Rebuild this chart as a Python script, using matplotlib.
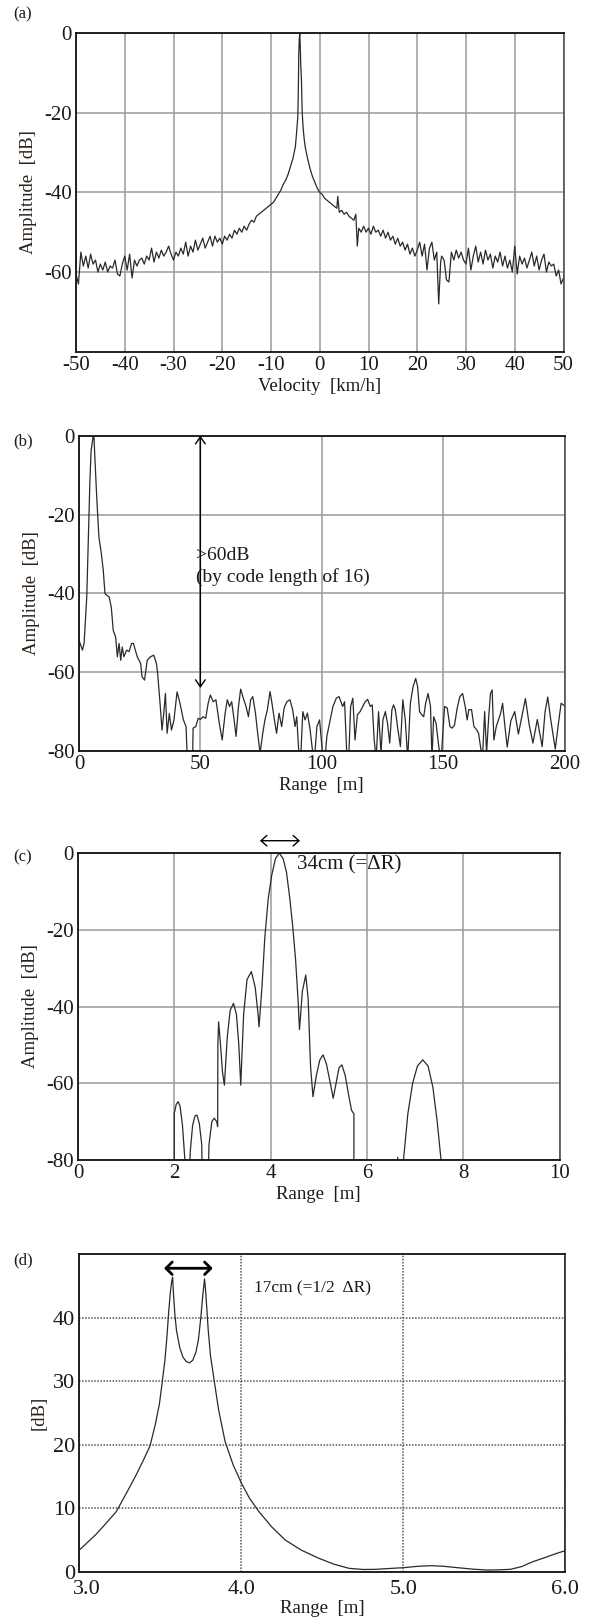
import numpy as np
import matplotlib.pyplot as plt
import matplotlib.transforms as mtransforms

plt.rcParams['font.family'] = ['Liberation Serif', 'DejaVu Serif']
plt.rcParams['axes.unicode_minus'] = False

# (a) Doppler spectrum
vel = [-50.0, -49.5, -49.0, -48.5, -48.0, -47.5, -47.0, -46.5, -46.0, -45.5,
       -45.0, -44.5, -44.0, -43.5, -43.0, -42.5, -42.0, -41.5, -41.0, -40.5,
       -40.0, -39.5, -39.0, -38.5, -38.0, -37.5, -37.0, -36.5, -36.0, -35.5,
       -35.0, -34.5, -34.0, -33.5, -33.0, -32.5, -32.0, -31.5, -31.0, -30.5,
       -30.0, -29.5, -29.0, -28.5, -28.0, -27.5, -27.0, -26.5, -26.0, -25.5,
       -25.0, -24.5, -24.0, -23.5, -23.0, -22.5, -22.0, -21.5, -21.0, -20.5,
       -20.0, -19.5, -19.0, -18.5, -18.0, -17.5, -17.0, -16.5, -16.0, -15.5,
       -15.0, -14.5, -14.0, -13.5, -13.0, -12.5, -12.0, -11.5, -11.0, -10.5,
       -10.0, -9.5, -9.0, -8.5, -8.0, -7.5, -7.0, -6.5, -6.0, -5.5,
       -5.0, -4.75, -4.5, -4.4, -4.3, -4.2, -4.1, -4.0, -3.9, -3.75,
       -3.6, -3.4, -3.2, -3.0, -2.5, -2.0, -1.5, -1.0, -0.5, 0.0,
       0.5, 1.0, 1.5, 2.0, 2.5, 3.0, 3.5, 3.7, 4.0, 4.5,
       5.0, 5.5, 6.0, 6.5, 7.0, 7.4, 7.7, 8.0, 8.5, 9.0,
       9.5, 10.0, 10.5, 11.0, 11.5, 12.0, 12.5, 13.0, 13.5, 14.0,
       14.5, 15.0, 15.5, 16.0, 16.5, 17.0, 17.5, 18.0, 18.5, 19.0,
       19.5, 20.0, 20.5, 21.0, 21.5, 22.0, 22.5, 23.0, 23.5, 24.0,
       24.4, 24.8, 25.0, 25.5, 26.0, 26.5, 27.0, 27.5, 28.0, 28.5,
       29.0, 29.5, 30.0, 30.5, 31.0, 31.5, 32.0, 32.5, 33.0, 33.5,
       34.0, 34.5, 35.0, 35.5, 36.0, 36.5, 37.0, 37.5, 38.0, 38.5,
       39.0, 39.5, 40.0, 40.5, 41.0, 41.5, 42.0, 42.5, 43.0, 43.5,
       44.0, 44.5, 45.0, 45.5, 46.0, 46.5, 47.0, 47.5, 48.0, 48.5,
       49.0, 49.5, 50.0]
amp_a = [-60.5, -63.0, -55.0, -58.5, -56.0, -59.0, -55.5, -58.0, -57.0, -60.0,
         -58.0, -59.5, -57.5, -60.0, -58.5, -59.0, -57.0, -60.5, -61.0, -58.0,
         -56.0, -59.5, -55.5, -61.5, -57.0, -58.5, -57.0, -56.5, -58.0, -56.0,
         -57.0, -54.0, -57.5, -55.0, -56.5, -54.5, -56.0, -55.0, -53.5, -55.5,
         -57.0, -55.0, -56.0, -54.0, -55.5, -52.5, -56.0, -53.5, -55.0, -52.0,
         -54.5, -53.0, -51.5, -54.0, -52.5, -51.0, -53.5, -51.0, -52.5, -51.5,
         -53.0, -51.0, -52.0, -50.5, -51.5, -49.5, -50.5, -49.0, -50.0, -48.5,
         -49.5, -48.0, -47.0, -47.5, -46.0, -45.5, -45.0, -44.5, -44.0, -43.5,
         -43.0, -42.5, -41.5, -40.5, -39.5, -38.0, -37.0, -35.5, -33.5, -31.5,
         -28.5, -25.0, -21.0, -15.0, -5.0, -1.5, 0.0, -3.0, -8.0, -12.0,
         -20.0, -24.0, -26.5, -28.5, -31.5, -34.0, -36.0, -37.5, -39.0, -40.0,
         -40.5, -41.5, -42.0, -42.5, -43.0, -43.5, -44.0, -41.0, -45.0, -44.5,
         -45.5, -45.0, -46.0, -46.5, -47.0, -45.5, -53.5, -49.0, -50.0, -48.5,
         -50.0, -49.0, -50.5, -48.5, -50.0, -49.5, -51.0, -49.5, -51.5, -50.0,
         -52.0, -51.0, -53.0, -51.5, -53.5, -52.5, -54.5, -53.0, -55.5, -54.0,
         -56.0, -54.5, -52.5, -56.0, -53.0, -59.5, -54.0, -52.5, -57.0, -55.0,
         -68.0, -57.5, -56.0, -57.0, -62.0, -62.5, -55.0, -57.0, -54.5, -56.5,
         -55.0, -57.0, -58.0, -54.0, -59.5, -56.0, -53.5, -57.5, -55.0, -58.0,
         -54.5, -57.0, -55.5, -59.0, -56.0, -57.5, -55.0, -58.5, -56.0, -59.0,
         -57.0, -60.0, -53.5, -60.5, -56.0, -58.0, -56.5, -59.0, -57.0, -55.0,
         -58.5, -56.0, -59.5, -57.0, -55.5, -60.0, -57.5, -58.5, -58.0, -61.0,
         -59.5, -63.0, -61.5]

# (b) range profile, 0-200 m
rng_b = [0.0, 1.4, 2.1, 3.2, 3.7, 4.5, 5.0, 5.8, 6.2, 6.4,
         7.3, 8.2, 9.2, 10.0, 10.7, 12.4, 13.3, 14.1, 15.1, 15.8,
         16.5, 17.2, 17.8, 18.5, 19.6, 20.6, 21.7, 22.4, 24.0, 25.4,
         26.0, 27.0, 28.1, 29.4, 30.8, 31.9, 32.4, 33.5, 34.2, 34.9,
         35.6, 36.3, 37.2, 38.1, 39.1, 40.4, 41.6, 43.0, 44.1, 44.6,
         45.7, 46.8, 47.0, 48.1, 49.1, 50.0, 51.1, 52.2, 53.2, 54.1,
         55.3, 56.4, 57.8, 59.0, 60.2, 61.1, 62.0, 62.9, 63.9, 64.7,
         65.7, 66.6, 67.7, 68.8, 69.8, 70.7, 71.6, 72.7, 73.6, 74.6,
         75.7, 76.6, 77.6, 78.7, 79.5, 80.5, 81.4, 82.4, 83.5, 84.5,
         85.6, 86.9, 88.0, 89.0, 89.7, 90.7, 91.3, 92.2, 93.1, 94.1,
         95.2, 96.3, 97.0, 98.0, 99.1, 100.3, 101.3, 102.1, 103.2, 104.6,
         106.0, 107.1, 108.6, 109.4, 110.3, 111.1, 111.9, 112.8, 113.7, 114.7,
         115.8, 116.9, 117.9, 118.9, 120.0, 120.8, 121.6, 122.4, 123.4, 124.4,
         125.2, 126.2, 127.1, 128.0, 128.9, 129.6, 130.3, 131.2, 132.4, 133.4,
         134.4, 135.4, 136.5, 137.6, 138.7, 139.5, 140.3, 141.2, 142.0, 142.8,
         143.8, 144.8, 145.4, 146.1, 147.1, 148.2, 149.2, 150.0, 150.6, 151.7,
         152.8, 153.7, 154.7, 155.8, 156.9, 158.0, 159.1, 159.9, 160.6, 161.7,
         162.7, 163.8, 164.6, 165.4, 166.2, 167.1, 167.9, 168.7, 169.5, 170.2,
         170.9, 171.9, 172.8, 173.7, 174.5, 175.5, 176.4, 177.9, 179.5, 181.0,
         182.5, 183.9, 185.5, 187.0, 188.8, 190.8, 192.0, 193.1, 194.2, 196.2,
         197.5, 198.6, 200.0]
amp_b = [-51.9, -54.4, -52.7, -40.9, -29.9, -11.3, -3.7, -0.3, -0.5, -3.7,
         -15.6, -25.7, -29.9, -34.2, -40.1, -40.9, -43.5, -49.4, -51.1, -56.1,
         -52.7, -57.0, -53.6, -56.1, -54.4, -54.8, -52.7, -52.7, -56.1, -57.8,
         -61.2, -62.0, -57.0, -56.1, -55.7, -57.8, -60.3, -68.8, -74.7, -70.5,
         -65.4, -75.5, -70.5, -74.7, -72.2, -65.0, -67.9, -72.1, -73.8, -82.0,
         -82.0, -82.0, -74.2, -73.8, -71.7, -72.0, -71.3, -71.7, -67.9, -65.8,
         -67.5, -67.0, -73.0, -77.2, -70.4, -67.0, -68.7, -67.5, -72.1, -76.3,
         -68.7, -64.3, -66.6, -68.7, -71.3, -67.0, -66.2, -70.4, -75.5, -80.5,
         -75.5, -72.1, -69.5, -64.9, -67.9, -72.1, -75.5, -70.4, -73.8, -69.1,
         -67.5, -67.0, -69.5, -73.8, -71.3, -82.0, -82.0, -70.0, -72.1, -70.4,
         -74.6, -80.5, -82.0, -73.8, -72.1, -80.5, -82.0, -76.3, -73.0, -68.7,
         -66.6, -66.2, -68.7, -67.5, -80.5, -82.0, -68.7, -66.6, -77.2, -70.8,
         -70.0, -68.7, -67.5, -66.9, -68.7, -68.3, -77.2, -82.0, -70.0, -80.5,
         -72.1, -70.0, -73.0, -78.0, -69.5, -68.3, -69.5, -73.8, -78.9, -67.0,
         -72.1, -82.0, -67.9, -63.7, -61.6, -63.7, -70.0, -70.8, -71.3, -67.9,
         -65.4, -68.7, -82.0, -71.3, -73.0, -78.9, -82.0, -74.6, -68.7, -69.1,
         -73.8, -74.2, -73.4, -69.1, -66.2, -65.4, -68.7, -72.1, -69.5, -69.5,
         -73.8, -74.6, -75.5, -78.9, -82.0, -70.0, -80.5, -72.1, -65.4, -64.5,
         -77.2, -73.8, -72.1, -70.4, -67.9, -74.0, -79.0, -72.3, -70.0, -75.7,
         -71.0, -66.7, -73.5, -78.0, -72.0, -78.9, -70.0, -66.3, -71.5, -79.5,
         -73.0, -67.9, -68.5]

# (c) range profile, 0-10 m (below -80 dB is off the chart)
rng_c = [0.0, 2.0, 2.0, 2.04, 2.08, 2.12, 2.17, 2.22, 2.23, 2.30,
         2.33, 2.38, 2.43, 2.47, 2.52, 2.57, 2.60, 2.68, 2.72, 2.78,
         2.83, 2.88, 2.90, 2.905, 2.92, 2.96, 3.00, 3.04, 3.10, 3.16,
         3.23, 3.29, 3.34, 3.38, 3.44, 3.51, 3.60, 3.68, 3.74, 3.76,
         3.82, 3.88, 3.95, 4.02, 4.10, 4.18, 4.26, 4.33, 4.40, 4.46,
         4.52, 4.57, 4.60, 4.66, 4.73, 4.78, 4.83, 4.88, 4.95, 5.02,
         5.09, 5.16, 5.24, 5.30, 5.36, 5.42, 5.48, 5.55, 5.62, 5.68,
         5.73, 5.73, 6.62, 6.64, 6.66, 6.74, 6.76, 6.85, 6.95, 7.05,
         7.16, 7.27, 7.37, 7.46, 7.54, 7.56, 10.0]
amp_c = [-100, -100, -67.8, -65.5, -64.8, -66.0, -71.0, -80.0, -100, -100,
         -78.0, -71.0, -68.5, -68.3, -70.5, -76.0, -100, -100, -76.0, -70.0,
         -69.1, -70.0, -71.3, -50.0, -44.0, -50.0, -57.0, -60.5, -48.0, -41.0,
         -39.2, -42.0, -50.0, -60.5, -42.0, -33.0, -30.9, -35.0, -42.0, -45.3,
         -35.0, -22.0, -12.0, -6.0, -1.5, 0.0, -1.5, -5.0, -12.0, -19.2,
         -28.0, -38.3, -46.0, -36.0, -31.8, -38.0, -55.7, -63.5, -58.0, -54.0,
         -52.6, -55.0, -60.0, -63.9, -60.0, -56.0, -55.2, -58.0, -63.0, -67.0,
         -68.0, -100, -100, -79.3, -100, -100, -80.0, -68.0, -60.0, -55.5,
         -53.9, -55.5, -61.0, -70.0, -80.0, -100, -100]

# (d) two-target resolution, 3-6 m
rng_d = [3.0, 3.05, 3.10, 3.15, 3.228, 3.30, 3.35, 3.40, 3.437, 3.47,
         3.495, 3.511, 3.528, 3.541, 3.552, 3.562, 3.570, 3.576, 3.582, 3.590,
         3.600, 3.620, 3.640, 3.660, 3.680, 3.700, 3.720, 3.735, 3.750, 3.762,
         3.773, 3.779, 3.787, 3.796, 3.810, 3.835, 3.860, 3.90, 3.95, 4.0,
         4.05, 4.109, 4.19, 4.271, 4.37, 4.48, 4.57, 4.665, 4.75, 4.827,
         4.91, 5.0, 5.09, 5.174, 5.25, 5.336, 5.43, 5.52, 5.60, 5.66,
         5.73, 5.80, 5.86, 5.915, 5.96, 6.0]
amp_d = [3.4, 4.6, 5.8, 7.2, 9.45, 12.8, 15.2, 17.8, 19.85, 23.3,
         26.5, 29.7, 33.2, 37.0, 41.0, 44.0, 45.7, 46.4, 43.5, 40.5,
         38.0, 35.3, 33.8, 33.1, 32.9, 33.3, 34.6, 36.5, 40.0, 43.5,
         46.1, 44.5, 41.5, 38.0, 34.0, 29.7, 25.5, 20.5, 16.8, 14.0,
         11.6, 9.45, 7.0, 5.0, 3.4, 2.1, 1.2, 0.53, 0.35, 0.37,
         0.5, 0.63, 0.85, 0.95, 0.85, 0.63, 0.4, 0.26, 0.3, 0.37,
         0.8, 1.58, 2.1, 2.6, 3.0, 3.3]

W, H = 591, 1622
fig = plt.figure(figsize=(W / 100, H / 100), dpi=100)
txt = '#1a1a1a'


def add_ax(left, top, right, bottom):
    return fig.add_axes([left / W, 1 - bottom / H, (right - left) / W, (bottom - top) / H])


def style(ax, grid_ls='-', grid_c='#9a9a9a', tick_size=15):
    ax.tick_params(length=0, labelsize=tick_size, colors=txt, pad=3)
    ax.grid(True, color=grid_c, lw=1.1, ls=grid_ls)
    ax.set_axisbelow(True)
    for s in ['top', 'left', 'bottom']:
        ax.spines[s].set_color('#111111')
        ax.spines[s].set_linewidth(1.3)
    ax.spines['right'].set_color('#444444')
    ax.spines['right'].set_linewidth(1.1)


line_kw = dict(color='#2a2a2a', lw=0.9)

# (a)
ax_a = add_ax(76, 33, 563.5, 351.7)
ax_a.plot(vel, amp_a, **line_kw)
ax_a.set_xlim(-50, 50)
ax_a.set_ylim(-80, 0)
ax_a.set_xticks(np.arange(-50, 51, 10))
ax_a.set_yticks([0, -20, -40, -60])
style(ax_a)
ax_a.set_xlabel('Velocity  [km/h]', fontsize=13.5, color=txt, labelpad=2)
ax_a.set_ylabel('Amplitude  [dB]', fontsize=13.5, color='#2b2118', labelpad=5)

# (b)
ax_b = add_ax(79, 435.7, 564.5, 751)
ax_b.plot(rng_b, amp_b, **line_kw)
ax_b.set_xlim(0, 200)
ax_b.set_ylim(-80, 0)
ax_b.set_xticks([0, 50, 100, 150, 200])
ax_b.set_yticks([0, -20, -40, -60, -80])
style(ax_b)
ax_b.set_xlabel('Range  [m]', fontsize=13.5, color=txt, labelpad=2)
ax_b.set_ylabel('Amplitude  [dB]', fontsize=13.5, color='#2b2118', labelpad=5)
ax_b.annotate('', xy=(50, 0), xytext=(50, -64),
              arrowprops=dict(arrowstyle='<->,head_length=0.5,head_width=0.35',
                              color='k', lw=1.0, shrinkA=0, shrinkB=0),
              annotation_clip=False)
ax_b.text(48.2, -33.2, '>60dB\n(by code length of 16)', fontsize=14, color=txt,
          ha='left', va='center', linespacing=1.3)

# (c)
ax_c = add_ax(78, 853, 559.5, 1160)
ax_c.plot(rng_c, amp_c, **line_kw)
ax_c.set_xlim(0, 10)
ax_c.set_ylim(-80, 0)
ax_c.set_xticks([0, 2, 4, 6, 8, 10])
ax_c.set_yticks([0, -20, -40, -60, -80])
style(ax_c)
ax_c.set_xlabel('Range  [m]', fontsize=13.5, color=txt, labelpad=2)
ax_c.set_ylabel('Amplitude  [dB]', fontsize=13.5, color='#2b2118', labelpad=5)
ax_c.annotate('', xy=(3.78, 3.2), xytext=(4.61, 3.2),
              arrowprops=dict(arrowstyle='<->,head_length=0.42,head_width=0.38',
                              color='k', lw=1.0, shrinkA=0, shrinkB=0),
              annotation_clip=False)
ax_c.text(4.54, -3.1, '34cm (=\u0394R)', fontsize=15, color=txt, ha='left', va='center')

# (d)
ax_d = add_ax(79.3, 1254.3, 565.3, 1571.7)
ax_d.plot(rng_d, amp_d, **line_kw)
ax_d.set_xlim(3, 6)
ax_d.set_ylim(0, 50)
ax_d.set_xticks([3, 4, 5, 6])
ax_d.set_xticklabels(['3.0', '4.0', '5.0', '6.0'])
ax_d.set_yticks([0, 10, 20, 30, 40])
style(ax_d, grid_ls=(0, (1, 1)), grid_c='#555555', tick_size=16)
ax_d.tick_params(axis='x', pad=6)
for lab in ax_d.get_yticklabels():
    lab.set_verticalalignment('center_baseline')
# first x label sits a little right of its tick, clear of the "0"
first = ax_d.get_xticklabels()[0]
first.set_transform(first.get_transform() +
                    mtransforms.ScaledTranslation(8 / 100, 0, fig.dpi_scale_trans))
ax_d.spines['right'].set_color('#111111')
ax_d.set_xlabel('Range  [m]', fontsize=13.5, color=txt, labelpad=1)
ax_d.set_ylabel('[dB]', fontsize=13.5, color='#2b2118', labelpad=4)
ax_d.annotate('', xy=(3.523, 47.8), xytext=(3.824, 47.8),
              arrowprops=dict(arrowstyle='<->,head_length=0.45,head_width=0.45',
                              color='k', lw=2.0, shrinkA=0, shrinkB=0),
              annotation_clip=False)
ax_d.text(4.078, 44.6, '17cm (=1/2  \u0394R)', fontsize=12.5, color=txt,
          ha='left', va='center')

# panel letters
for lab, y in [('(a)', 14), ('(b)', 441), ('(c)', 857), ('(d)', 1260)]:
    fig.text(23 / W, 1 - y / H, lab, fontsize=12, color=txt, ha='center', va='center')

fig.savefig('out.png', dpi=100)
